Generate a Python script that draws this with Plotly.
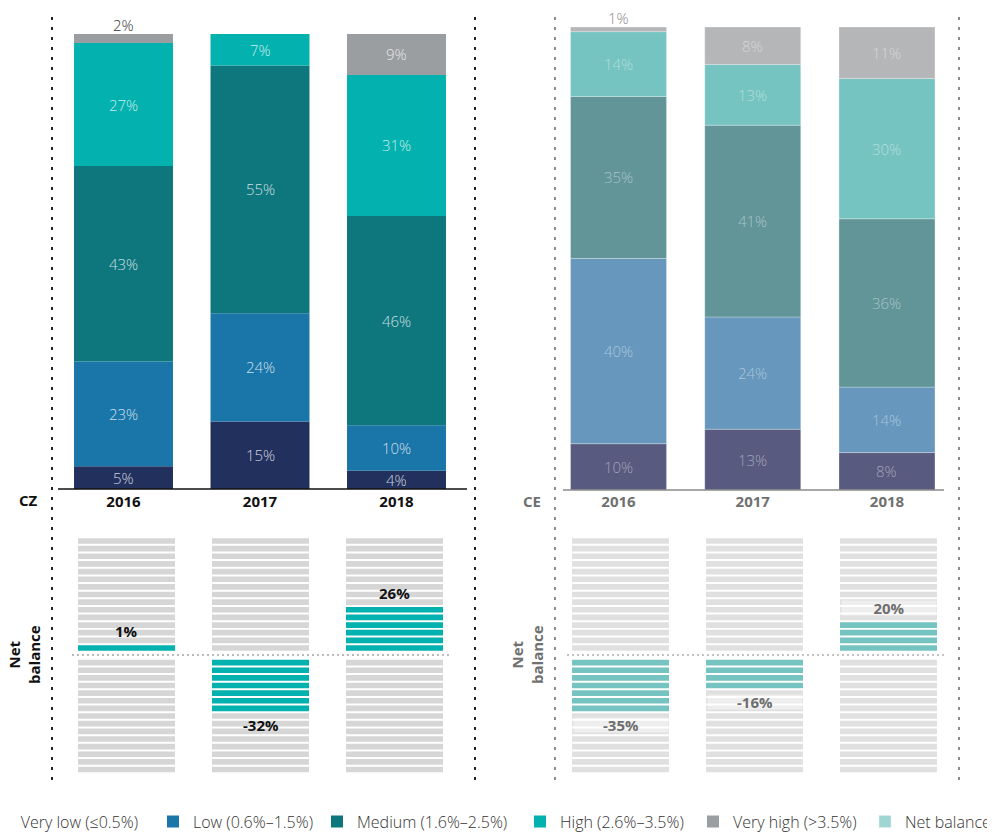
import math
import numpy as np
import plotly.graph_objects as go

# ---------------- data ----------------
years = ["2016", "2017", "2018"]
levels = ["Very low (≤0.5%)", "Low (0.6%–1.5%)", "Medium (1.6%–2.5%)",
          "High (2.6%–3.5%)", "Very high (>3.5%)"]

cz_very_low = [5, 15, 4]
cz_low = [23, 24, 10]
cz_medium = [43, 55, 46]
cz_high = [27, 7, 31]
cz_very_high = [2, 0, 9]

ce_very_low = [10, 13, 8]
ce_low = [40, 24, 14]
ce_medium = [35, 41, 36]
ce_high = [14, 13, 30]
ce_very_high = [1, 8, 11]

cz_net_balance = [1, -32, 26]
ce_net_balance = [-35, -16, 20]

# ---------------- geometry / styles ----------------
OFF = 8                    # page body margin of the html page
FW, FH = 995 - OFF, 832 - OFF
MB = 40                    # bottom margin (legend lives there)
GH = FH - MB
FONT = "Open Sans"
cz_colors = ["#22305e", "#1a76a8", "#0e767d", "#03b2ae", "#9a9ea1"]
ce_colors = ["#585a80", "#6797bd", "#629598", "#76c4c1", "#b5b6b8"]
net_legend_color = "#9fd6d2"
STRIPES = 15          # stripes per half
PCT_PER_STRIPE = 5    # percent represented by one stripe
ST_H = 0.74           # stripe height (stripe units)
UP0 = 0.55            # offset of first upper stripe from zero
DN0 = 0.62            # offset of first lower stripe from zero


def px_x(p):
    return (p - OFF) / FW


def px_y(p):
    return (GH - (p - OFF)) / GH


fig = go.Figure()
annotations = []


def add_stack(series, colors, xa, ya, width, showlegend, in_color, top_color, line):
    arr = np.array(series, dtype=float)
    totals = arr.sum(axis=0)
    norm = arr / totals * 100
    bases = np.vstack([np.zeros(arr.shape[1]), np.cumsum(norm, axis=0)[:-1]])
    for k in range(arr.shape[0]):
        fig.add_trace(go.Bar(
            x=years, y=norm[k], base=bases[k], width=width,
            marker=dict(color=colors[k], line=line),
            name=levels[k], showlegend=showlegend,
            legend="legend" if k == 0 else f"legend{k + 1}",
            xaxis=xa, yaxis=ya, hoverinfo="skip"))
        for j in range(arr.shape[1]):
            v = arr[k, j]
            if v == 0:
                continue
            if v < 4:
                annotations.append(dict(
                    x=j, y=float(bases[k, j] + norm[k, j]), xref=xa, yref=ya,
                    text=f"{int(v)}%", showarrow=False, xanchor="center", yanchor="middle",
                    yshift=9, font=dict(family=FONT, size=15, color=top_color, weight=300)))
            else:
                annotations.append(dict(
                    x=j, y=float(bases[k, j] + norm[k, j] / 2), xref=xa, yref=ya,
                    text=f"{int(v)}%", showarrow=False, xanchor="center", yanchor="middle",
                    font=dict(family=FONT, size=15, color=in_color, weight=300)))


add_stack([cz_very_low, cz_low, cz_medium, cz_high, cz_very_high], cz_colors,
          "x", "y", 0.725, True, "rgba(255,255,255,0.78)", "#333333",
          dict(width=0))
add_stack([ce_very_low, ce_low, ce_medium, ce_high, ce_very_high], ce_colors,
          "x2", "y2", 0.715, False, "rgba(255,255,255,0.45)", "#8a8a8a",
          dict(width=0.8, color="rgba(255,255,255,0.35)"))


def add_net(values, xa, ya, fill_color, gray_color, label_color, label_bg):
    gx, gb, gy, fx, fb, fy = [], [], [], [], [], []
    for j, v in enumerate(values):
        n = max(1, math.ceil(abs(v) / PCT_PER_STRIPE)) if v != 0 else 0
        for i in range(STRIPES):
            up_base = UP0 + i
            dn_base = -(DN0 + i) - ST_H
            up_filled = v > 0 and i < n
            dn_filled = v < 0 and i < n
            for base, filled in ((up_base, up_filled), (dn_base, dn_filled)):
                if filled:
                    fx.append(years[j]); fb.append(base); fy.append(ST_H)
                else:
                    gx.append(years[j]); gb.append(base); gy.append(ST_H)
        if v > 0:
            y_edge = UP0 + n - 1 + ST_H
            shift = 14
        else:
            y_edge = -(DN0 + n - 1 + ST_H)
            shift = -14
        ann = dict(x=j, y=y_edge, xref=xa, yref=ya, text=f"<b>{v}%</b>",
                   showarrow=False, xanchor="center", yanchor="middle", yshift=shift,
                   font=dict(family=FONT, size=15, color=label_color))
        if label_bg:
            ann.update(bgcolor=label_bg, width=94, height=14, borderpad=0)
        annotations.append(ann)
    fig.add_trace(go.Bar(x=gx, base=gb, y=gy, width=0.724,
                         marker=dict(color=gray_color, line=dict(width=0)),
                         showlegend=False, xaxis=xa, yaxis=ya, hoverinfo="skip"))
    fig.add_trace(go.Bar(x=fx, base=fb, y=fy, width=0.724,
                         marker=dict(color=fill_color, line=dict(width=0)),
                         showlegend=False, xaxis=xa, yaxis=ya, hoverinfo="skip"))


add_net(cz_net_balance, "x3", "y3", cz_colors[3], "#d6d6d6", "#111111", None)
add_net(ce_net_balance, "x4", "y4", ce_colors[3], "#e0e0e0", "#6e6e6e", "rgba(255,255,255,0.45)")

# legend-only entry for net balance
fig.add_trace(go.Bar(x=[None], y=[None], name="Net balance", marker=dict(color=net_legend_color),
                     showlegend=True, legend="legend6", xaxis="x", yaxis="y", hoverinfo="skip"))

# ---------------- text annotations ----------------
annotations += [
    dict(x=px_x(28.5), y=px_y(500), xref="paper", yref="paper", text="<b>CZ</b>", showarrow=False,
         xanchor="center", yanchor="middle", font=dict(family=FONT, size=15, color="#111111")),
    dict(x=px_x(532), y=px_y(501), xref="paper", yref="paper", text="<b>CE</b>", showarrow=False,
         xanchor="center", yanchor="middle", font=dict(family=FONT, size=15, color="#707070")),
    dict(x=px_x(24), y=px_y(655), xref="paper", yref="paper", text="<b>Net<br>balance</b>",
         showarrow=False, textangle=-90, xanchor="center", yanchor="middle",
         font=dict(family=FONT, size=15, color="#111111")),
    dict(x=px_x(527), y=px_y(655), xref="paper", yref="paper", text="<b>Net<br>balance</b>",
         showarrow=False, textangle=-90, xanchor="center", yanchor="middle",
         font=dict(family=FONT, size=15, color="#707070")),
]

# ---------------- shapes ----------------
shapes = []
for xp, col in ((52, "#222222"), (475, "#222222"), (555, "#8c8c8c"), (959, "#8c8c8c")):
    shapes.append(dict(type="line", xref="paper", yref="paper", x0=px_x(xp), x1=px_x(xp),
                       y0=px_y(780), y1=px_y(15), line=dict(color=col, width=2, dash="3px,7px")))
shapes.append(dict(type="line", xref="paper", yref="paper", x0=px_x(58), x1=px_x(467),
                   y0=px_y(489), y1=px_y(489), line=dict(color="#111111", width=1.5)))
shapes.append(dict(type="line", xref="paper", yref="paper", x0=px_x(563), x1=px_x(944),
                   y0=px_y(490), y1=px_y(490), line=dict(color="#8a8a8a", width=1.5)))
shapes.append(dict(type="line", xref="paper", yref="y3", x0=px_x(72), x1=px_x(450),
                   y0=0, y1=0, line=dict(color="#777777", width=1.2, dash="2px,3px")))
shapes.append(dict(type="line", xref="paper", yref="y4", x0=px_x(567), x1=px_x(945),
                   y0=0, y1=0, line=dict(color="#888888", width=1.2, dash="2px,3px")))

# ---------------- layout ----------------
cat_x = dict(type="category", range=[-0.5, 2.5], showgrid=False, zeroline=False, showline=False,
             ticks="", fixedrange=True)
hid_y = dict(showgrid=False, zeroline=False, showticklabels=False, showline=False, fixedrange=True)

legend_text_x = [20.7, 193, 357, 560, 733, 905]   # page x where each legend label starts
legends = {}
for i, tx in enumerate(legend_text_x):
    key = "legend" if i == 0 else f"legend{i + 1}"
    legends[key] = dict(orientation="h", x=px_x(tx - 40), xanchor="left",
                        y=px_y(821.5), yanchor="middle",
                        font=dict(family=FONT, size=16, color="#333333", weight=300),
                        bgcolor="rgba(0,0,0,0)")

fig.update_layout(
    width=FW, height=FH,
    margin=dict(l=0, r=0, t=0, b=MB, autoexpand=False),
    paper_bgcolor="white", plot_bgcolor="white",
    barmode="overlay",
    font=dict(family=FONT, size=14, color="#333333"),
    xaxis=dict(cat_x, domain=[px_x(55.25), px_x(464.75)], anchor="y", ticklabelstandoff=2,
               tickfont=dict(family=FONT, size=15, color="#111111", weight=700)),
    yaxis=dict(hid_y, domain=[px_y(489), px_y(34)], range=[0, 100]),
    xaxis2=dict(cat_x, domain=[px_x(551.4), px_x(954.1)], anchor="y2", ticklabelstandoff=1,
                tickfont=dict(family=FONT, size=15, color="#707070", weight=700)),
    yaxis2=dict(hid_y, domain=[px_y(490), px_y(27)], range=[0, 100]),
    xaxis3=dict(cat_x, domain=[px_x(59.5), px_x(461.5)], anchor="y3", showticklabels=False),
    yaxis3=dict(hid_y, domain=[px_y(777.24), px_y(532.76)], range=[-16, 16]),
    xaxis4=dict(cat_x, domain=[px_x(553.5), px_x(955.5)], anchor="y4", showticklabels=False),
    yaxis4=dict(hid_y, domain=[px_y(777.24), px_y(532.76)], range=[-16, 16]),
    annotations=annotations,
    shapes=shapes,
    showlegend=True,
    **legends,
)

fig.write_html("out.html")
